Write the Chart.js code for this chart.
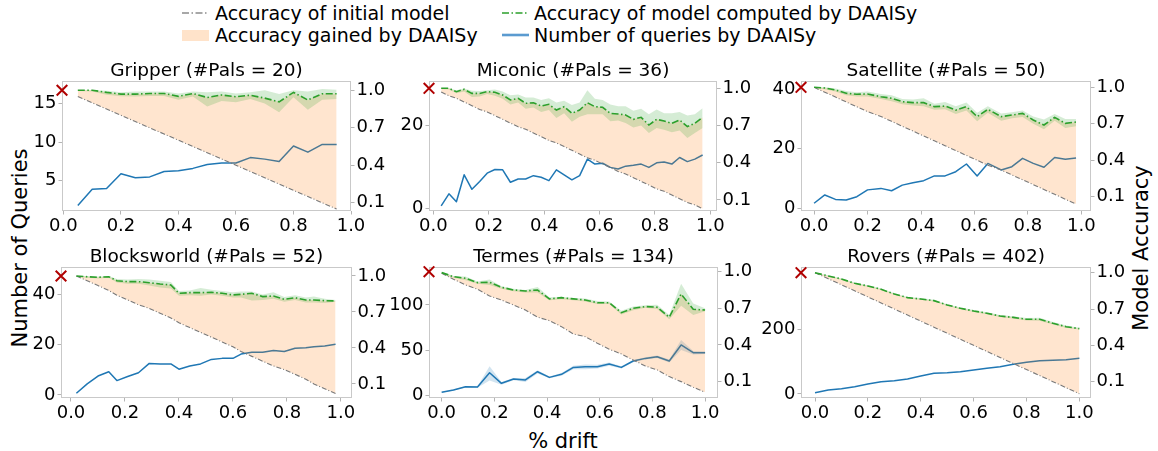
<!DOCTYPE html>
<html><head><meta charset="utf-8">
<script src="https://cdn.jsdelivr.net/npm/chart.js@4.4.0/dist/chart.umd.min.js"></script>
<style>
body{margin:0;width:1158px;height:451px;background:#fff;position:relative;overflow:hidden;font-family:"DejaVu Sans";}
canvas{position:absolute;}
.leg{position:absolute;font-size:19px;line-height:22px;white-space:nowrap;color:#000;}
.axl{position:absolute;font-size:21px;line-height:24px;white-space:nowrap;color:#000;}
svg{position:absolute;}
</style></head><body>
<svg style="left:182px;top:6px" width="28" height="14"><line x1="0" y1="7" x2="27" y2="7" stroke="#8c8c8c" stroke-width="1.6" stroke-dasharray="7,2.5,1.5,2.5"/></svg>
<div class="leg" style="left:215px;top:2px">Accuracy of initial model</div>
<svg style="left:502px;top:6px" width="28" height="14"><line x1="0" y1="7" x2="27" y2="7" stroke="#2ca02c" stroke-width="1.6" stroke-dasharray="7,2.5,1.5,2.5"/></svg>
<div class="leg" style="left:534px;top:2px">Accuracy of model computed by DAAISy</div>
<div style="position:absolute;left:182px;top:30px;width:27px;height:11px;background:rgba(255,127,14,0.22)"></div>
<div class="leg" style="left:215px;top:24px">Accuracy gained by DAAISy</div>
<svg style="left:502px;top:28px" width="28" height="14"><line x1="0" y1="7" x2="27" y2="7" stroke="#5b9bd0" stroke-width="2.6"/></svg>
<div class="leg" style="left:534px;top:24px">Number of queries by DAAISy</div>
<div class="axl" style="left:20px;top:248px;transform:translate(-50%,-50%) rotate(-90deg)">Number of Queries</div>
<div class="axl" style="left:1141px;top:248px;transform:translate(-50%,-50%) rotate(-90deg)">Model Accuracy</div>
<div class="axl" style="left:563px;top:441px;transform:translate(-50%,-50%)">% drift</div>
<script>
// ---------------- DATA ----------------
const xTicks = [0.0, 0.2, 0.4, 0.6, 0.8, 1.0];
const accuracyTicks = [0.1, 0.4, 0.7, 1.0];
const startAccuracy = 1.0;

// Gripper (#Pals = 20)
const gripperDrift = [0.05,0.10,0.15,0.20,0.25,0.30,0.35,0.40,0.45,0.50,0.55,0.60,0.65,0.70,0.75,0.80,0.85,0.90,0.95];
const gripperInitial = [0.95,0.90,0.85,0.80,0.75,0.70,0.65,0.60,0.55,0.50,0.45,0.40,0.35,0.30,0.25,0.20,0.15,0.10,0.05];
const gripperAcc = [1.0,1.0,0.983,0.969,0.969,0.974,0.974,0.951,0.974,0.942,0.962,0.948,0.96,0.937,0.907,0.983,0.922,0.972,0.972];
const gripperAccLo = [0.995,0.99,0.965,0.952,0.95,0.955,0.955,0.925,0.95,0.87,0.915,0.905,0.93,0.895,0.825,0.945,0.845,0.925,0.93];
const gripperAccHi = [1.0,1.0,0.997,0.985,0.99,0.99,0.99,0.975,0.99,0.985,0.99,0.975,0.985,1.0,0.97,1.0,0.99,1.01,1.005];
const gripperQueries = [1.8,3.9,4.0,5.9,5.4,5.5,6.2,6.3,6.6,7.1,7.3,7.3,8.0,7.8,7.5,9.5,8.7,9.7,9.7];
const gripperQueryTicks = [5, 10, 15];

// Miconic (#Pals = 36)
const miconicDrift = [0.028,0.056,0.083,0.111,0.139,0.167,0.194,0.222,0.25,0.278,0.306,0.333,0.361,0.389,0.417,0.444,0.472,0.5,0.528,0.556,0.583,0.611,0.639,0.667,0.694,0.722,0.75,0.778,0.806,0.833,0.861,0.889,0.917,0.944,0.972];
const miconicInitial = [0.97,0.94,0.92,0.89,0.86,0.83,0.81,0.78,0.75,0.72,0.69,0.67,0.64,0.61,0.58,0.56,0.53,0.50,0.47,0.44,0.42,0.39,0.36,0.33,0.31,0.28,0.25,0.22,0.19,0.17,0.14,0.11,0.08,0.06,0.03];
const miconicAcc = [1.0,1.0,0.973,0.992,0.959,0.959,0.973,0.968,0.946,0.906,0.919,0.879,0.884,0.857,0.871,0.825,0.852,0.798,0.825,0.884,0.852,0.847,0.798,0.793,0.785,0.75,0.766,0.704,0.75,0.736,0.718,0.745,0.691,0.718,0.766];
const miconicAccLo = [0.995,0.99,0.96,0.975,0.93,0.935,0.955,0.94,0.915,0.87,0.885,0.835,0.845,0.81,0.825,0.76,0.8,0.73,0.77,0.79,0.79,0.79,0.735,0.74,0.72,0.685,0.7,0.64,0.68,0.665,0.645,0.66,0.6,0.64,0.68];
const miconicAccHi = [1.0,1.0,0.985,0.998,0.98,0.978,0.985,0.99,0.975,0.945,0.95,0.925,0.925,0.905,0.92,0.885,0.9,0.865,0.885,0.985,0.915,0.905,0.87,0.855,0.855,0.82,0.835,0.79,0.83,0.8,0.8,0.81,0.78,0.79,0.84];
const miconicQueries = [0.6,3.5,1.6,8.1,4.6,6.5,8.5,9.4,9.3,6.3,7.1,7.1,7.9,7.5,6.7,9.3,8.1,6.9,7.9,11.9,10.7,10.9,9.9,9.5,10.2,10.4,10.7,9.9,11.0,11.2,10.7,12.3,11.3,11.9,12.9];
const miconicQueryTicks = [0, 20];

// Satellite (#Pals = 50)
const satelliteDrift = [0.00,0.04,0.08,0.12,0.16,0.20,0.25,0.29,0.33,0.37,0.41,0.45,0.49,0.53,0.57,0.61,0.65,0.70,0.74,0.78,0.82,0.86,0.90,0.94,0.98];
const satelliteInitial = [1.00,0.96,0.92,0.88,0.84,0.80,0.76,0.72,0.68,0.64,0.60,0.56,0.52,0.48,0.44,0.40,0.36,0.32,0.28,0.24,0.20,0.16,0.12,0.08,0.04];
const satelliteAcc = [1.0,0.995,0.978,0.951,0.943,0.945,0.923,0.91,0.882,0.874,0.874,0.841,0.846,0.813,0.841,0.759,0.819,0.759,0.772,0.786,0.731,0.69,0.753,0.704,0.715];
const satelliteAccLo = [0.995,0.985,0.965,0.935,0.925,0.925,0.905,0.885,0.86,0.85,0.845,0.815,0.82,0.78,0.81,0.72,0.79,0.725,0.745,0.755,0.7,0.655,0.725,0.665,0.68];
const satelliteAccHi = [1.0,1.0,0.99,0.97,0.96,0.965,0.945,0.935,0.905,0.9,0.91,0.865,0.88,0.845,0.875,0.79,0.845,0.785,0.795,0.81,0.76,0.735,0.78,0.74,0.74];
const satelliteQueries = [1.7,4.5,3.0,2.8,3.9,6.2,6.7,5.9,7.8,8.6,9.3,10.9,10.9,12.3,14.9,10.9,15.1,12.9,14.0,16.8,15.1,13.8,17.1,16.5,16.9];
const satelliteQueryTicks = [0, 20, 40];

// Blocksworld (#Pals = 52)
const blocksworldDrift = [0.02,0.06,0.10,0.14,0.17,0.21,0.25,0.29,0.33,0.37,0.40,0.44,0.48,0.52,0.56,0.60,0.63,0.67,0.71,0.75,0.79,0.83,0.87,0.90,0.94,0.98];
const blocksworldInitial = [1.00,0.96,0.92,0.88,0.84,0.80,0.76,0.73,0.69,0.65,0.61,0.57,0.53,0.49,0.45,0.41,0.37,0.33,0.29,0.25,0.22,0.18,0.14,0.10,0.06,0.02];
const blocksworldAcc = [1.0,0.994,0.989,0.994,0.961,0.953,0.953,0.944,0.933,0.925,0.856,0.861,0.861,0.864,0.856,0.842,0.847,0.856,0.828,0.833,0.806,0.819,0.8,0.8,0.794,0.792];
const blocksworldAccLo = [0.995,0.985,0.98,0.985,0.945,0.935,0.935,0.92,0.905,0.895,0.835,0.84,0.835,0.845,0.835,0.82,0.82,0.795,0.8,0.81,0.785,0.8,0.78,0.78,0.775,0.785];
const blocksworldAccHi = [1.0,1.0,0.995,1.0,0.975,0.97,0.975,0.97,0.96,0.95,0.875,0.88,0.9,0.885,0.875,0.865,0.87,0.87,0.845,0.865,0.825,0.84,0.82,0.83,0.81,0.8];
const blocksworldQueries = [0.7,4.4,7.5,9.2,5.7,7.3,8.8,12.5,12.3,12.3,10.2,11.5,12.3,14.1,14.5,14.5,16.2,16.9,16.9,17.6,17.2,18.5,18.7,19.1,19.4,20.1];
const blocksworldQueryTicks = [0, 20, 40];

// Termes (#Pals = 134)
const termesDrift = [0.0,0.045,0.091,0.136,0.182,0.227,0.273,0.318,0.364,0.409,0.455,0.5,0.545,0.591,0.636,0.682,0.727,0.773,0.818,0.864,0.909,0.955,1.0];
const termesInitial = [0.987,0.938,0.891,0.856,0.801,0.768,0.727,0.686,0.627,0.599,0.55,0.49,0.468,0.414,0.365,0.327,0.277,0.228,0.196,0.141,0.1,0.054,0.013];
const termesAcc = [0.992,0.959,0.946,0.91,0.913,0.872,0.85,0.842,0.85,0.777,0.787,0.777,0.768,0.746,0.746,0.664,0.7,0.714,0.709,0.627,0.817,0.692,0.686];
const termesAccLo = [0.985,0.95,0.93,0.9,0.89,0.86,0.84,0.83,0.83,0.765,0.775,0.765,0.755,0.735,0.735,0.65,0.685,0.705,0.695,0.61,0.72,0.645,0.675];
const termesAccHi = [1.0,0.965,0.96,0.92,0.935,0.88,0.86,0.85,0.875,0.79,0.795,0.785,0.78,0.76,0.755,0.68,0.715,0.725,0.73,0.645,0.9,0.74,0.7];
const termesQueries = [3.0,5.6,9.3,8.9,24.8,13.0,17.8,16.7,25.9,19.6,23.0,30.7,31.5,31.5,34.4,30.7,37.8,40.7,42.6,37.8,55.6,47.0,47.0];
const termesQueriesLo = [2.5,5.0,8.5,8.0,16,11.5,16.5,14.5,24,18.5,21.5,28.5,28.5,29.5,32.5,29.5,36.5,39.5,41,36,50,45,45.5];
const termesQueriesHi = [3.5,6.2,10,9.8,32,14.5,19,19,27.5,20.7,24.5,32.5,34,33.5,36,32,39,42,44,39.5,61,49,48.5];
const termesQueryTicks = [0, 50, 100];

// Rovers (#Pals = 402)
const roversDrift = [0.0,0.05,0.10,0.15,0.20,0.25,0.30,0.35,0.40,0.45,0.50,0.55,0.60,0.65,0.70,0.75,0.80,0.85,0.90,0.95,1.0];
const roversInitial = [1.0,0.95,0.90,0.85,0.80,0.75,0.70,0.65,0.60,0.55,0.50,0.45,0.40,0.35,0.30,0.25,0.20,0.15,0.10,0.05,0.0];
const roversAcc = [1.0,0.973,0.948,0.912,0.89,0.863,0.824,0.794,0.783,0.769,0.733,0.706,0.684,0.665,0.642,0.631,0.615,0.615,0.582,0.554,0.538];
const roversAccLo = [1.0,0.968,0.942,0.906,0.884,0.857,0.818,0.788,0.776,0.762,0.726,0.699,0.676,0.657,0.634,0.622,0.605,0.603,0.572,0.545,0.53];
const roversAccHi = [1.0,0.978,0.953,0.918,0.896,0.869,0.83,0.8,0.79,0.776,0.74,0.713,0.692,0.673,0.65,0.64,0.625,0.627,0.592,0.563,0.546];
const roversQueries = [4.1,12.4,16.5,22.7,30.9,38.1,41.2,46.4,55.6,63.9,65.9,69.0,74.2,79.3,84.5,91.7,97.9,103.0,104.1,106.1,110.3];
const roversQueryTicks = [0, 200];

// ---------------- LAYOUT ----------------
const panels = [
  {title:'Gripper (#Pals = 20)', drift:gripperDrift, initial:gripperInitial, acc:gripperAcc, accLo:gripperAccLo, accHi:gripperAccHi, queries:gripperQueries, queryTicks:gripperQueryTicks,
   box:{left:62, top:81, width:289, height:130}, xRange:[-0.005, 1.0], qRange:[1.08, 17.92], aRange:[0.034, 1.074]},
  {title:'Miconic (#Pals = 36)', drift:miconicDrift, initial:miconicInitial, acc:miconicAcc, accLo:miconicAccLo, accHi:miconicAccHi, queries:miconicQueries, queryTicks:miconicQueryTicks,
   box:{left:429, top:81, width:288, height:130}, xRange:[-0.016, 1.024], qRange:[-0.65, 30.8], aRange:[0.011, 1.059]},
  {title:'Satellite (#Pals = 50)', drift:satelliteDrift, initial:satelliteInitial, acc:satelliteAcc, accLo:satelliteAccLo, accHi:satelliteAccHi, queries:satelliteQueries, queryTicks:satelliteQueryTicks,
   box:{left:801, top:81, width:290, height:130}, xRange:[-0.049, 1.036], qRange:[-0.9, 42.8], aRange:[-0.017, 1.052]},
  {title:'Blocksworld (#Pals = 52)', drift:blocksworldDrift, initial:blocksworldInitial, acc:blocksworldAcc, accLo:blocksworldAccLo, accHi:blocksworldAccHi, queries:blocksworldQueries, queryTicks:blocksworldQueryTicks,
   box:{left:61, top:267, width:291, height:131}, xRange:[-0.037, 1.041], qRange:[-1.2, 50.7], aRange:[-0.017, 1.075]},
  {title:'Termes (#Pals = 134)', drift:termesDrift, initial:termesInitial, acc:termesAcc, accLo:termesAccLo, accHi:termesAccHi, queries:termesQueries, queriesLo:termesQueriesLo, queriesHi:termesQueriesHi, queryTicks:termesQueryTicks,
   box:{left:429, top:267, width:289, height:131}, xRange:[-0.048, 1.049], qRange:[-3.3, 142.2], aRange:[-0.034, 1.038]},
  {title:'Rovers (#Pals = 402)', drift:roversDrift, initial:roversInitial, acc:roversAcc, accLo:roversAccLo, accHi:roversAccHi, queries:roversQueries, queryTicks:roversQueryTicks,
   box:{left:801, top:267, width:290, height:131}, xRange:[-0.053, 1.044], qRange:[-12.4, 392.8], aRange:[-0.035, 1.047]}
];

Chart.defaults.font.family = "'DejaVu Sans'";
Chart.defaults.color = '#000';

const frame = {
  id: 'frame',
  beforeDatasetsDraw(chart) {
    const a = chart.chartArea, ctx = chart.ctx;
    ctx.save();
    ctx.strokeStyle = '#c9c9c9';
    ctx.lineWidth = 1;
    ctx.strokeRect(a.left + 0.5, a.top + 0.5, a.right - a.left - 1, a.bottom - a.top - 1);
    ctx.restore();
  }
};

const WL = 48, WR = 48, HT = 20, HX = 32;
const TRANSPARENT = 'rgba(0,0,0,0)';

function pts(xs, ys) { return xs.map((x, i) => ({x: x, y: ys[i]})); }

function makePanel(p) {
  const cv = document.createElement('canvas');
  cv.width = p.box.width + WL + WR;
  cv.height = HT + p.box.height + HX;
  cv.style.left = (p.box.left - WL) + 'px';
  cv.style.top = (p.box.top - HT) + 'px';
  cv.style.width = cv.width + 'px';
  cv.style.height = cv.height + 'px';
  document.body.appendChild(cv);

  const ds = [];
  ds.push({data:[{x:p.xRange[0], y:startAccuracy}], yAxisID:'y1', showLine:false, pointStyle:'crossRot', pointRadius:7.5,
           pointBorderColor:'#b00000', pointBorderWidth:2, borderColor:'#b00000', clip:false, order:0});       // 0
  ds.push({data:pts(p.drift, p.acc), yAxisID:'y1', borderColor:'#2ca02c', borderWidth:1.6, borderDash:[7,2.5,1.5,2.5],
           pointRadius:0, fill:false, order:1});                                                              // 1
  ds.push({data:pts(p.drift, p.initial), yAxisID:'y1', borderColor:'#7a7a7a', borderWidth:1.1, borderDash:[5,2,1,2],
           pointRadius:0, fill:false, order:2});                                                              // 2
  ds.push({data:pts(p.drift, p.accHi), yAxisID:'y1', borderColor:TRANSPARENT, borderWidth:1, pointRadius:0,
           fill:4, backgroundColor:'rgba(44,160,44,0.2)', order:3});                                           // 3
  ds.push({data:pts(p.drift, p.accLo), yAxisID:'y1', borderColor:TRANSPARENT, borderWidth:1, pointRadius:0,
           fill:false, order:4});                                                                             // 4
  ds.push({data:pts(p.drift, p.acc), yAxisID:'y1', borderColor:TRANSPARENT, borderWidth:1, pointRadius:0,
           fill:2, backgroundColor:'rgba(255,127,14,0.2)', order:5});                                          // 5
  ds.push({data:pts(p.drift, p.queries), yAxisID:'y', borderColor:'#1f77b4', borderWidth:1.5, pointRadius:0,
           fill:false, borderJoinStyle:'round', order:6});                                                    // 6
  if (p.queriesLo) {
    ds.push({data:pts(p.drift, p.queriesHi), yAxisID:'y', borderColor:TRANSPARENT, borderWidth:1, pointRadius:0,
             fill:8, backgroundColor:'rgba(31,119,180,0.2)', order:7});                                        // 7
    ds.push({data:pts(p.drift, p.queriesLo), yAxisID:'y', borderColor:TRANSPARENT, borderWidth:1, pointRadius:0,
             fill:false, order:8});                                                                           // 8
  }

  const tickFont = {family:"'DejaVu Sans'", size:18};
  const gridOpt = {drawOnChartArea:false, drawTicks:true, tickLength:3.5, color:'#b5b5b5'};

  new Chart(cv, {
    type:'line',
    data:{datasets:ds},
    options:{
      responsive:false, animation:false, events:[],
      layout:{padding:0},
      plugins:{
        legend:{display:false}, tooltip:{enabled:false},
        title:{display:true, text:p.title, color:'#000', padding:{top:0, bottom:0},
               font:{family:"'DejaVu Sans'", size:18.5, weight:'normal', lineHeight:'20px'}}
      },
      elements:{line:{tension:0}},
      scales:{
        x:{type:'linear', min:p.xRange[0], max:p.xRange[1],
           afterBuildTicks:(s) => { s.ticks = xTicks.map(v => ({value:v})); },
           afterFit:(s) => { s.height = HX; },
           ticks:{font:tickFont, color:'#000', padding:1, maxRotation:0, autoSkip:false, callback:(v) => Number(v).toFixed(1)},
           grid:gridOpt, border:{display:false}},
        y:{type:'linear', position:'left', min:p.qRange[0], max:p.qRange[1],
           afterBuildTicks:(s) => { s.ticks = p.queryTicks.map(v => ({value:v})); },
           afterFit:(s) => { s.width = WL; },
           ticks:{font:tickFont, color:'#000', padding:2, autoSkip:false, callback:(v) => String(v)},
           grid:gridOpt, border:{display:false}},
        y1:{type:'linear', position:'right', min:p.aRange[0], max:p.aRange[1],
           afterBuildTicks:(s) => { s.ticks = accuracyTicks.map(v => ({value:v})); },
           afterFit:(s) => { s.width = WR; },
           ticks:{font:tickFont, color:'#000', padding:2, autoSkip:false, callback:(v) => Number(v).toFixed(1)},
           grid:gridOpt, border:{display:false}}
      }
    },
    plugins:[frame]
  });
}

panels.forEach(makePanel);
</script>
</body></html>
